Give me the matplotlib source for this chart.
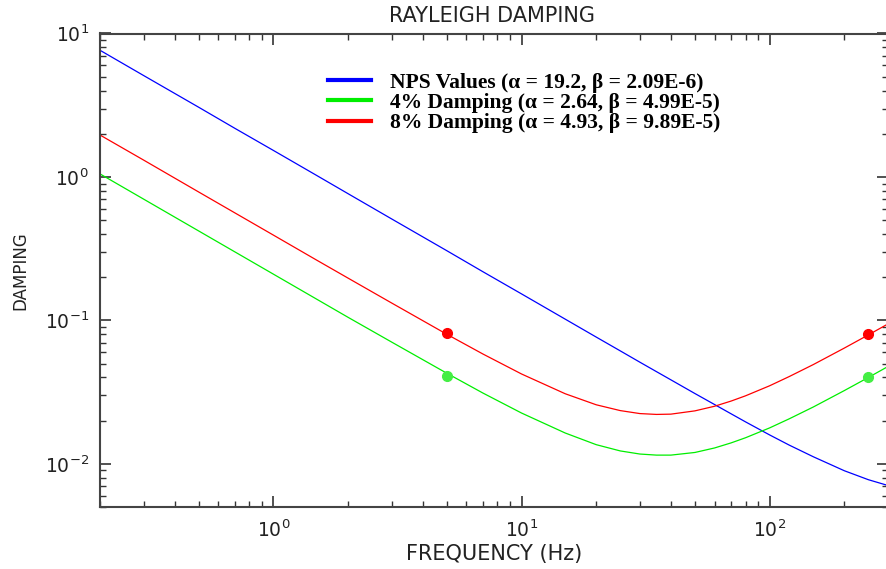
import numpy as np
import matplotlib
matplotlib.use("Agg")
import matplotlib.pyplot as plt
from matplotlib.ticker import LogLocator, NullFormatter

plt.rcParams["font.family"] = ["DejaVu Sans"]
plt.rcParams["mathtext.default"] = "regular"

# frequency samples (Hz) and damping
freq = [0.2, 0.3, 0.5, 0.7, 1, 1.5, 2, 3, 5, 7, 10, 15, 20, 25, 30, 35,
        40, 50, 60, 70, 80, 100, 120, 150, 200, 250, 300]
nps_damp = [7.64, 5.09, 3.06, 2.18, 1.53, 1.02, 0.764, 0.509, 0.306, 0.218,
            0.153, 0.102, 0.0765, 0.0613, 0.0511, 0.0439, 0.0385, 0.0309,
            0.0259, 0.0223, 0.0196, 0.0159, 0.0135, 0.0112, 0.00895,
            0.00775, 0.00706]
damp4 = [1.05, 0.700, 0.420, 0.300, 0.210, 0.140, 0.105, 0.0705, 0.0428,
         0.0311, 0.0226, 0.0164, 0.0136, 0.0123, 0.0117, 0.0115, 0.0115,
         0.0120, 0.0129, 0.0140, 0.0152, 0.0178, 0.0206, 0.0249, 0.0324,
         0.0400, 0.0477]
damp8 = [1.96, 1.31, 0.785, 0.561, 0.393, 0.262, 0.197, 0.132, 0.0800,
         0.0582, 0.0423, 0.0308, 0.0258, 0.0235, 0.0224, 0.0221, 0.0222,
         0.0234, 0.0252, 0.0274, 0.0298, 0.0350, 0.0406, 0.0492, 0.0641,
         0.0792, 0.0945]

# target points marked with dots
mark_freq = [5, 250]
mark4 = [0.041, 0.040]
mark8 = [0.082, 0.080]

labels = ["NPS Values (\u03b1 = 19.2, \u03b2 = 2.09E-6)",
          "4% Damping (\u03b1 = 2.64, \u03b2 = 4.99E-5)",
          "8% Damping (\u03b1 = 4.93, \u03b2 = 9.89E-5)"]

fig = plt.figure(figsize=(8.86, 5.69), dpi=100)
ax = fig.add_axes([100 / 886, 62 / 569, 788 / 886, 473.5 / 569])

ax.plot(freq, nps_damp, color="#0000ff", lw=0.9, label=labels[0])
ax.plot(freq, damp4, color="#00ee00", lw=0.9, label=labels[1])
ax.plot(freq, damp8, color="#ff0000", lw=0.9, label=labels[2])
ax.plot(mark_freq, mark4, "o", color="#44ee44", ms=7, zorder=5)
ax.plot(mark_freq, mark8, "o", color="#ff0000", ms=7, zorder=5)

ax.set_xscale("log")
ax.set_yscale("log")
ax.set_xlim(0.2, 300)
ax.set_ylim(0.005, 10)

for axis in (ax.xaxis, ax.yaxis):
    axis.set_major_locator(LogLocator(base=10))
    axis.set_minor_locator(LogLocator(base=10, subs=np.arange(2, 10)))
    axis.set_minor_formatter(NullFormatter())
ax.tick_params(which="both", direction="in", top=True, right=True,
               color="#333333", labelsize=13.5, labelcolor="#222222")
ax.tick_params(which="major", length=8, width=1.2)
ax.tick_params(which="minor", length=4, width=1.0)
ax.tick_params(axis="x", pad=9)
ax.tick_params(axis="y", pad=8)
for s in ax.spines.values():
    s.set_color("#444444")
    s.set_linewidth(1.5)

ax.set_xlabel("FREQUENCY (Hz)", fontsize=15, color="#222222", labelpad=2)
ax.set_ylabel("DAMPING", fontsize=12, color="#222222", labelpad=11)
fig.text(0.555, 0.99, "RAYLEIGH DAMPING", ha="center", va="top",
         fontsize=15, color="#222222")

leg = ax.legend(loc="upper left", bbox_to_anchor=(0.278, 0.935), frameon=False,
                prop={"family": "Liberation Serif", "weight": "bold", "size": 15.5},
                handlelength=2.0, handletextpad=0.9, labelspacing=0.0,
                borderaxespad=0.0)
for ln in leg.get_lines():
    ln.set_linewidth(3)

fig.savefig("out.png", dpi=100)
